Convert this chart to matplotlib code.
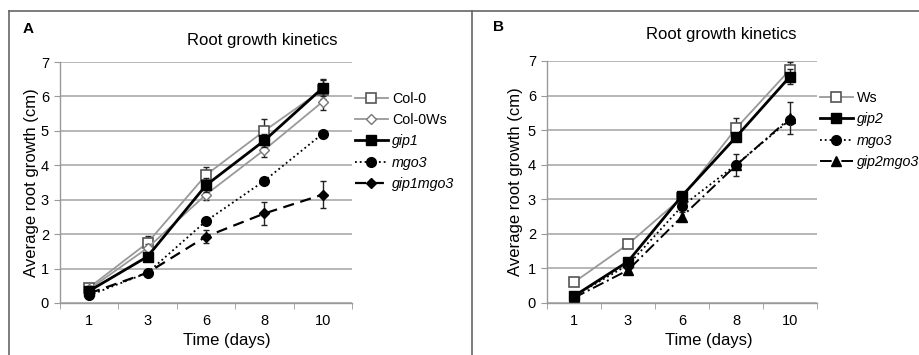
import numpy as np
import matplotlib.pyplot as plt
from matplotlib.lines import Line2D

plt.rcParams['font.family'] = ['Liberation Sans', 'DejaVu Sans']

days = ['1', '3', '6', '8', '10']

# panel A
col0 = [0.45, 1.75, 3.72, 5.0, 6.2]
col0_err = [0.08, 0.2, 0.22, 0.35, 0.28]
col0ws = [0.4, 1.6, 3.15, 4.45, 5.85]
col0ws_err = [0.05, 0.12, 0.15, 0.2, 0.25]
gip1 = [0.35, 1.35, 3.42, 4.72, 6.25]
gip1_err = [0.05, 0.1, 0.2, 0.2, 0.25]
mgo3_a = [0.22, 0.88, 2.38, 3.55, 4.92]
mgo3_a_err = [0.04, 0.05, 0.08, 0.08, 0.08]
gip1mgo3 = [0.28, 0.88, 1.93, 2.6, 3.15]
gip1mgo3_err = [0.04, 0.05, 0.18, 0.32, 0.4]

# panel B
ws = [0.6, 1.7, 3.05, 5.05, 6.75]
ws_err = [0.05, 0.08, 0.1, 0.3, 0.22]
gip2 = [0.2, 1.2, 3.1, 4.8, 6.55]
gip2_err = [0.05, 0.1, 0.1, 0.1, 0.22]
mgo3_b = [0.2, 1.1, 2.8, 4.0, 5.3]
mgo3_b_err = [0.04, 0.08, 0.1, 0.1, 0.1]
gip2mgo3 = [0.15, 0.95, 2.5, 3.98, 5.35]
gip2mgo3_err = [0.05, 0.1, 0.12, 0.32, 0.45]

W, H = 919, 355
fig = plt.figure(figsize=(W/100, H/100), dpi=100)

# panel frames
frame = '#666666'
fig.add_artist(Line2D([9/W, 1], [1-11/H]*2, color=frame, lw=1.2))
fig.add_artist(Line2D([9/W]*2, [1-11/H, 0], color=frame, lw=1.2))
fig.add_artist(Line2D([472/W]*2, [1-11/H, 0], color=frame, lw=1.2))

grey = '#999999'


def setup(ax, xlab_x, ylab_pad):
    x = np.arange(len(days))
    ax.set_xlim(-0.5, len(days) - 0.5)
    ax.set_ylim(0, 7)
    ax.set_xticks(x)
    ax.set_xticklabels(days, fontsize=10.5)
    ax.set_xticks(np.arange(-0.5, len(days)), minor=True)
    ax.tick_params(axis='x', which='major', length=0, pad=8)
    ax.tick_params(axis='x', which='minor', length=4, color=grey, direction='out')
    ax.set_yticks(range(8))
    ax.tick_params(axis='y', length=4, color=grey, labelsize=10.5, pad=4)
    ax.grid(axis='y', color='#aaaaaa', lw=1.2)
    ax.set_axisbelow(True)
    for s in ['top', 'right']:
        ax.spines[s].set_visible(False)
    for s in ['left', 'bottom']:
        ax.spines[s].set_color(grey)
        ax.spines[s].set_linewidth(1)
    ax.set_xlabel('Time (days)', fontsize=12)
    ax.xaxis.set_label_coords(xlab_x, -0.125)
    ax.set_ylabel('Average root growth (cm)', fontsize=12, labelpad=ylab_pad)


def series(ax, y, e, label, **kw):
    x = np.arange(len(days))
    ax.errorbar(x, y, yerr=e, fmt='none', capsize=2.5, ecolor='#222222',
                elinewidth=1, capthick=1)
    ax.plot(x, y, label=label, **kw)


def legend(ax, first_italic):
    leg = ax.legend(loc='upper left', bbox_to_anchor=(1.01, 0.875), frameon=False,
                    fontsize=10.3, handlelength=2.3, handletextpad=0.3,
                    labelspacing=0.5, borderaxespad=0, borderpad=0)
    for t in leg.get_texts()[first_italic:]:
        t.set_style('italic')


# ---- A
axA = fig.add_axes([60/W, 1-303/H, 292/W, 241/H])
setup(axA, 0.57, 1)
series(axA, col0, col0_err, 'Col-0', color=grey, lw=1.3, marker='s', ms=7,
       mfc='white', mec='#555555', mew=1.2)
series(axA, col0ws, col0ws_err, 'Col-0Ws', color=grey, lw=1.3, marker='D', ms=5,
       mfc='white', mec='#777777', mew=1)
series(axA, gip1, gip1_err, 'gip1', color='black', lw=2, marker='s', ms=7)
series(axA, mgo3_a, mgo3_a_err, 'mgo3', color='black', lw=1.3, ls=':', marker='o', ms=7)
series(axA, gip1mgo3, gip1mgo3_err, 'gip1mgo3', color='black', lw=1.6, ls=(0, (5, 3)),
       marker='D', ms=5)
legend(axA, 2)
fig.text(262/W, 1-40/H, 'Root growth kinetics', fontsize=12, ha='center', va='center')
fig.text(28/W, 1-29/H, 'A', fontsize=11, fontweight='bold', ha='center', va='center')

# ---- B
axB = fig.add_axes([547/W, 1-303/H, 270/W, 242/H])
setup(axB, 0.6, 3)
series(axB, ws, ws_err, 'Ws', color=grey, lw=1.3, marker='s', ms=7,
       mfc='white', mec='#555555', mew=1.2)
series(axB, gip2, gip2_err, 'gip2', color='black', lw=2, marker='s', ms=7)
series(axB, mgo3_b, mgo3_b_err, 'mgo3', color='black', lw=1.3, ls=':', marker='o', ms=7)
series(axB, gip2mgo3, gip2mgo3_err, 'gip2mgo3', color='black', lw=1.4, ls=(0, (6, 2, 1, 2)),
       marker='^', ms=7)
legend(axB, 1)
fig.text(721/W, 1-35/H, 'Root growth kinetics', fontsize=12, ha='center', va='center')
fig.text(498/W, 1-27/H, 'B', fontsize=11, fontweight='bold', ha='center', va='center')

fig.savefig('out.png', dpi=100)
